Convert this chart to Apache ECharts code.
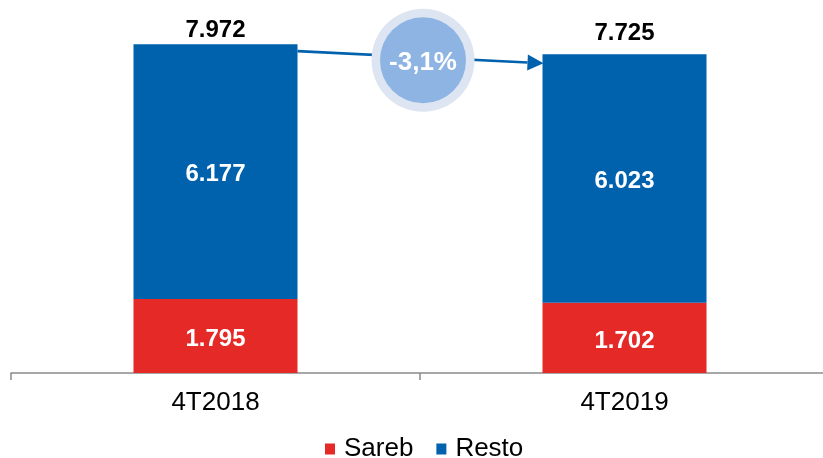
<!DOCTYPE html>
<html>
<head>
<meta charset="utf-8">
<script src="https://cdn.jsdelivr.net/npm/echarts@6/dist/echarts.min.js"></script>
<style>
  html, body { margin: 0; padding: 0; background: #fff; }
  #chart { width: 823px; height: 458px; }
</style>
</head>
<body>
<div id="chart"></div>
<script>
// Quarter categories and stacked values (thousands)
const categories = ['4T2018', '4T2019'];
const sarebValues = [1.795, 1.702];
const restoValues = [6.177, 6.023];
const totals = [7.972, 7.725];
const changeLabel = '-3,1%';

const BLUE = '#0061AD';
const RED = '#E52927';
const FONT = '"Liberation Sans", Arial, sans-serif';

const fmt = v => v.toFixed(3);

// small vertical nudges for the total labels above each stack
const totalLabelOffsets = [[0, 3], [0, -4]];

const chart = echarts.init(document.getElementById('chart'), null, { renderer: 'canvas' });

const insideLabel = {
  show: true,
  position: 'inside',
  offset: [0, 3],
  formatter: p => fmt(p.value),
  fontFamily: FONT,
  fontSize: 24,
  fontWeight: 'bold',
  color: '#fff'
};

const option = {
  animation: false,
  backgroundColor: '#fff',
  grid: { left: 11, width: 818, top: 43, bottom: 85, containLabel: false, outerBoundsMode: 'none' },
  legend: {
    data: ['Sareb', 'Resto'],
    top: 436,
    left: 325,
    padding: 0,
    itemWidth: 10,
    itemHeight: 11,
    itemGap: 23,
    icon: 'rect',
    textStyle: { fontFamily: FONT, fontSize: 26, color: '#000', padding: [0, 0, 0, 4] }
  },
  xAxis: {
    type: 'category',
    data: categories,
    axisLine: { lineStyle: { color: '#8a8a8a', width: 1.5 } },
    axisTick: { show: true, length: 7, lineStyle: { color: '#8a8a8a', width: 1.5 } },
    axisLabel: { fontFamily: FONT, fontSize: 26, color: '#000', margin: 17 }
  },
  yAxis: {
    type: 'value',
    min: 0,
    max: 8,
    show: false,
    splitLine: { show: false }
  },
  series: [
    {
      name: 'Sareb',
      type: 'bar',
      stack: 'total',
      barWidth: 164,
      data: sarebValues,
      itemStyle: { color: RED },
      label: insideLabel
    },
    {
      name: 'Resto',
      type: 'bar',
      stack: 'total',
      barWidth: 164,
      data: restoValues,
      itemStyle: { color: BLUE },
      label: insideLabel
    },
    {
      // zero-height series carrying the total labels above each stack
      name: 'Total',
      type: 'bar',
      stack: 'total',
      barWidth: 164,
      data: totals.map((t, i) => ({ value: 0, label: { offset: totalLabelOffsets[i] } })),
      itemStyle: { color: 'transparent' },
      label: {
        show: true,
        position: 'top',
        distance: 5,
        formatter: p => fmt(totals[p.dataIndex]),
        fontFamily: FONT,
        fontSize: 24,
        fontWeight: 'bold',
        color: '#000'
      },
      tooltip: { show: false }
    }
  ]
};

chart.setOption(option);

// Change arrow between the two stack tops, with the percentage badge
function drawArrow() {
  const p1 = chart.convertToPixel({ gridIndex: 0 }, [categories[0], totals[0]]);
  const p2 = chart.convertToPixel({ gridIndex: 0 }, [categories[1], totals[1]]);
  const half = 82;
  const x1 = p1[0] + half, y1 = p1[1] + 7;
  const x2 = p2[0] - half + 1, y2 = p2[1] + 9;
  const ang = Math.atan2(y2 - y1, x2 - x1);
  const headLen = 16, headW = 8;
  const bx = x2 - headLen * Math.cos(ang), by = y2 - headLen * Math.sin(ang);
  const nx = -Math.sin(ang), ny = Math.cos(ang);
  const cx = (p1[0] + p2[0]) / 2 + 3;
  const cy = (p1[1] + p2[1]) / 2 + 11;

  chart.setOption({
    graphic: [
      {
        type: 'line', z: 10,
        shape: { x1: x1, y1: y1, x2: bx, y2: by },
        style: { stroke: BLUE, lineWidth: 2.6 }
      },
      {
        type: 'polygon', z: 10,
        shape: { points: [[x2, y2], [bx + nx * headW, by + ny * headW], [bx - nx * headW, by - ny * headW]] },
        style: { fill: BLUE }
      },
      {
        type: 'circle', z: 11,
        shape: { cx: cx, cy: cy, r: 51.5 },
        style: { fill: '#DCE5F1' }
      },
      {
        type: 'circle', z: 12,
        shape: { cx: cx, cy: cy, r: 43 },
        style: { fill: '#8EB4E3' }
      },
      {
        type: 'text', z: 13,
        x: cx, y: cy + 3,
        style: {
          text: changeLabel,
          fill: '#fff',
          font: 'bold 26px ' + FONT,
          align: 'center',
          verticalAlign: 'middle'
        }
      }
    ]
  });
}
drawArrow();
</script>
</body>
</html>
